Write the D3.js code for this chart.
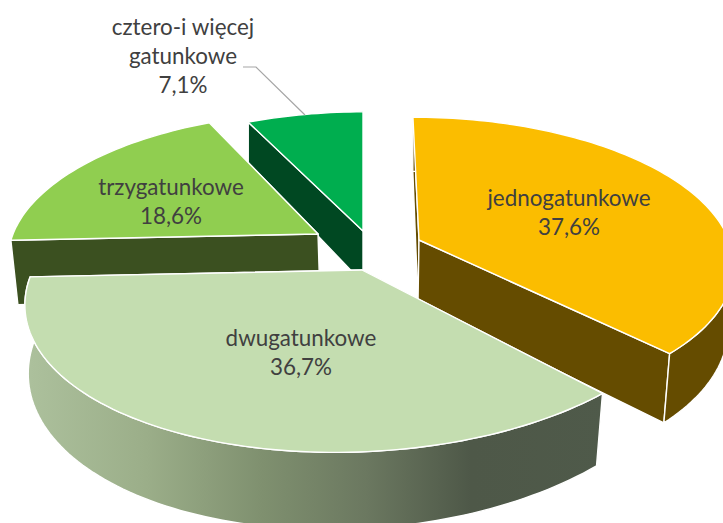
<!DOCTYPE html>
<html>
<head>
<meta charset="utf-8">
<script src="https://cdn.jsdelivr.net/npm/d3@7/dist/d3.min.js"></script>
<style>
  html, body { margin: 0; padding: 0; background: #fff; overflow: hidden; }
  text { font-family: Lato, "Open Sans", sans-serif; fill: #404040; text-anchor: middle; }
</style>
</head>
<body>
<svg id="chart" width="723" height="523"></svg>
<script>
// data
const categories = ['jednogatunkowe', 'dwugatunkowe', 'trzygatunkowe', 'cztero-i więcej gatunkowe'];
const shares = [37.6, 36.7, 18.6, 7.1];
const labelLines = [['jednogatunkowe'], ['dwugatunkowe'], ['trzygatunkowe'], ['cztero-i więcej', 'gatunkowe']];

// colours per slice
const topColors = ['#fbbd00', '#c4ddb0', '#90ce50', '#00ae4f'];
const sideColors = ['#654c00', 'url(#wallGradient)', '#3b5020', '#004822'];

// each slice gets its own perspective fit, top face and bottom face
// x,y = apex on screen, ax/bx = horizontal terms, by = vertical term, p = perspective
const faces = [
  {top: {x: 419, y: 240, ax: 310, bx: 7, by: 142, p: 0.156}, bottom: {x: 418, y: 302, ax: 305, bx: 6, by: 151, p: 0.156}},
  {top: {x: 362, y: 270, ax: 329, bx: -23, by: 155, p: 0.15}, bottom: {x: 364, y: 332, ax: 326, bx: -30, by: 168, p: 0.15}},
  {top: {x: 318, y: 234, ax: 305, bx: -9, by: 140, p: 0.15}, bottom: {x: 320, y: 298, ax: 300, bx: -9, by: 150, p: 0.15}},
  {top: {x: 363, y: 231, ax: 302, bx: 0, by: 137, p: 0.15}, bottom: {x: 363, y: 283, ax: 302, bx: 0, by: 151, p: 0.15}}
];
const labelPos = [{x: 569, y: 206}, {x: 301, y: 346}, {x: 171, y: 195}, {x: 183, y: 35}];
const drawOrder = [3, 2, 0, 1];
const lineGap = 29;

const svg = d3.select('#chart');

const grad = svg.append('defs').append('linearGradient')
    .attr('id', 'wallGradient')
    .attr('gradientUnits', 'userSpaceOnUse')
    .attr('x1', 30).attr('x2', 610).attr('y1', 0).attr('y2', 0);
[[0, '#acc09c'], [0.2, '#9bae89'], [0.4, '#7f906f'], [0.58, '#6b7860'], [0.76, '#4e5848'], [1, '#4f5a4a']]
  .forEach(s => grad.append('stop').attr('offset', s[0]).attr('stop-color', s[1]));

const pie = d3.pie().sort(null).value(d => d);
const arcs = pie(shares);
const line = d3.line();

// angle measured clockwise from 12 o'clock, radius 1 = rim, 0 = apex
function project(face, angle, r) {
  const X = Math.sin(angle) * r;
  const Y = -Math.cos(angle) * r;
  const w = 1 - face.p * Y;
  return [face.x + (face.ax * X + face.bx * Y) / w, face.y + face.by * Y / w];
}

function rim(face, a0, a1) {
  const n = Math.max(2, Math.ceil((a1 - a0) * 40));
  return d3.range(n + 1).map(i => project(face, a0 + (a1 - a0) * i / n, 1));
}

function drawFace(points, fill) {
  svg.append('path')
      .attr('d', line(points) + 'Z')
      .attr('fill', fill)
      .attr('stroke', '#fff')
      .attr('stroke-width', 1.4)
      .attr('stroke-linejoin', 'round');
}

drawOrder.forEach(i => {
  const f = faces[i];
  const a = arcs[i];
  const side = sideColors[i];
  const sideFlat = i === 1 ? '#6b7860' : side;
  const midAngle = (a.startAngle + a.endAngle) / 2;

  // cut faces, the one nearer the viewer goes last
  [a.startAngle, a.endAngle]
    .sort((p, q) => Math.cos(q) - Math.cos(p))
    .forEach(angle => {
      drawFace([project(f.top, angle, 0), project(f.top, angle, 1),
                project(f.bottom, angle, 1), project(f.bottom, angle, 0)], sideFlat);
    });
  // outer wall, only slices facing the viewer show it
  if (Math.cos(midAngle) < 0.45) {
    drawFace(rim(f.top, a.startAngle, a.endAngle).concat(rim(f.bottom, a.startAngle, a.endAngle).reverse()), side);
  }
  // top
  drawFace([project(f.top, 0, 0)].concat(rim(f.top, a.startAngle, a.endAngle)), topColors[i]);
});

// leader line of the small slice
svg.append('path')
    .attr('d', line([[243, 67], [256, 67], [305, 115]]))
    .attr('fill', 'none')
    .attr('stroke', '#a6a6a6')
    .attr('stroke-width', 1.2);

// labels
categories.forEach((c, i) => {
  const rows = labelLines[i].concat([String(shares[i]).replace('.', ',') + '%']);
  rows.forEach((row, j) => {
    svg.append('text')
        .attr('x', labelPos[i].x)
        .attr('y', labelPos[i].y + j * lineGap)
        .attr('font-size', 22.4)
        .text(row);
  });
});
</script>
</body>
</html>
